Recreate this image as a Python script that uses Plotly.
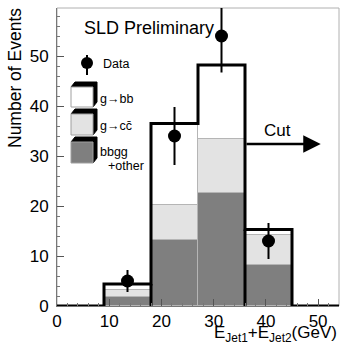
"""
Distribuição E_Jet1 + E_Jet2 - SLD Preliminary.
"""
import plotly.graph_objects as go

# Bins de 9 GeV
bin_centers = [4.5, 13.5, 22.5, 31.5, 40.5, 49.5]
bin_edges = [0, 9, 18, 27, 36, 45, 54]

# Componentes empilhadas
bbgg_other = [0, 1.8, 13.3, 22.6, 8.2, 0]
g_cc = [0, 1.4, 7.0, 10.8, 6.0, 0]
g_bb = [0, 1.2, 16.2, 14.8, 1.1, 0]

# Dados
data_x = [13.5, 22.5, 31.5, 40.5]
data_y = [5, 34, 54, 13]
data_err = [2.2, 5.8, 7.3, 3.6]

# Corte
cut_value = 36
cut_y = 32.4
cut_end = 50.5

DARK = "#7f7f7f"
LIGHT = "#e3e3e3"
FONT = "Liberation Sans, Arial, sans-serif"

# Área do gráfico em pixels
L, R, T, B = 57, 339, 8, 306


def px(x):
    return (x - L) / (R - L)


def py(y):
    return (B - y) / (B - T)


total = [a + b + c for a, b, c in zip(bbgg_other, g_cc, g_bb)]

fig = go.Figure()

# Barras empilhadas
for vals, color in [(bbgg_other, DARK), (g_cc, LIGHT), (g_bb, "white")]:
    fig.add_trace(
        go.Bar(
            x=bin_centers,
            y=vals,
            width=9,
            marker=dict(color=color, line=dict(color="#b5b5b5", width=1)),
            showlegend=False,
            hoverinfo="skip",
        )
    )

# Contorno do histograma total
step_x = list(bin_edges)
step_y = total + [total[-1]]
fig.add_trace(
    go.Scatter(
        x=step_x,
        y=step_y,
        mode="lines",
        line=dict(color="black", width=3, shape="hv"),
        showlegend=False,
        hoverinfo="skip",
    )
)
# Linhas verticais que descem até zero
fig.add_trace(
    go.Scatter(
        x=[18, 18, None, 36, 36],
        y=[0, total[1], None, 0, total[4]],
        mode="lines",
        line=dict(color="black", width=3),
        showlegend=False,
        hoverinfo="skip",
    )
)

# Pontos de dados
fig.add_trace(
    go.Scatter(
        x=data_x,
        y=data_y,
        mode="markers",
        marker=dict(color="black", size=13),
        error_y=dict(type="data", array=data_err, width=0, thickness=2, color="black"),
        showlegend=False,
        cliponaxis=False,
    )
)

# Seta do corte
fig.add_annotation(
    x=cut_end, y=cut_y, ax=cut_value, ay=cut_y,
    xref="x", yref="y", axref="x", ayref="y",
    showarrow=True, arrowhead=2, arrowsize=1.4, arrowwidth=2.5,
    arrowcolor="black", text="",
)
fig.add_annotation(
    x=42.3, y=35.2, xref="x", yref="y", text="Cut", showarrow=False,
    font=dict(size=17, color="black", family=FONT),
)

# Textos
fig.add_annotation(
    x=px(82), y=py(28), xref="paper", yref="paper", xanchor="left",
    yanchor="middle", text="SLD Preliminary", showarrow=False,
    font=dict(size=18, color="black", family=FONT),
)
fig.add_annotation(
    x=px(15), y=py(78), xref="paper", yref="paper", xanchor="center",
    yanchor="middle", text="Number of Events", textangle=-90, showarrow=False,
    font=dict(size=17.5, color="black", family=FONT),
)
fig.add_annotation(
    x=px(339), y=py(334), xref="paper", yref="paper", xanchor="right",
    yanchor="middle", text="E<sub>Jet1</sub>+E<sub>Jet2</sub>(GeV)",
    showarrow=False, font=dict(size=17, color="black", family=FONT),
)

# Legenda desenhada à mão
shapes = []
shapes.append(dict(type="line", xref="paper", yref="paper",
                   x0=px(87), x1=px(87), y0=py(55), y1=py(75),
                   line=dict(color="black", width=2)))
shapes.append(dict(type="circle", xref="paper", yref="paper",
                   x0=px(81), x1=px(93), y0=py(57), y1=py(69),
                   fillcolor="black", line=dict(color="black", width=0)))

boxes = [(87, 107, "white"), (114, 135, LIGHT), (142, 163, DARK)]
x0, x1, dx, dy = 71, 93, 4, 5
for top, bot, color in boxes:
    path = (
        f"M {px(x0)},{py(top)} L {px(x0 + dx)},{py(top - dy)} "
        f"L {px(x1 + dx)},{py(top - dy)} L {px(x1 + dx)},{py(bot - dy)} "
        f"L {px(x1)},{py(bot)} Z"
    )
    shapes.append(dict(type="path", xref="paper", yref="paper", path=path,
                       fillcolor="black", line=dict(color="black", width=1)))
    shapes.append(dict(type="rect", xref="paper", yref="paper",
                       x0=px(x0), x1=px(x1), y0=py(bot), y1=py(top),
                       fillcolor=color, line=dict(color="#a0a0a0", width=1)))

legend_texts = [
    (101, 64, "Data"),
    (98, 99, "g→bb"),
    (98, 126, "g→cc\u0304"),
    (98, 152, "bbgg"),
    (106, 166, "+other"),
]
for x, y, txt in legend_texts:
    fig.add_annotation(
        x=px(x), y=py(y), xref="paper", yref="paper", xanchor="left",
        yanchor="middle", text=txt, showarrow=False,
        font=dict(size=12.5, color="black", family=FONT),
    )

# Moldura
shapes.append(dict(type="rect", xref="paper", yref="paper", x0=0, x1=1, y0=0, y1=1,
                   line=dict(color="#b0b0b0", width=1), layer="below"))

fig.update_layout(
    width=346,
    height=347,
    margin=dict(l=L, r=346 - R, t=T, b=347 - B, autoexpand=False),
    barmode="stack",
    bargap=0,
    plot_bgcolor="white",
    paper_bgcolor="white",
    shapes=shapes,
    font=dict(family=FONT, color="black"),
)
fig.update_xaxes(
    range=[0, 54],
    tickvals=[0, 10, 20, 30, 40, 50],
    ticks="inside",
    ticklen=7,
    tickcolor="#555",
    tickfont=dict(size=17),
    minor=dict(ticks="inside", dtick=2, ticklen=3, tickcolor="#777"),
    showline=True,
    linecolor="#777",
    showgrid=False,
    zeroline=False,
    automargin=False,
    ticklabelstandoff=0,
)
fig.update_yaxes(
    range=[0, 59.6],
    tickvals=[0, 10, 20, 30, 40, 50],
    ticks="inside",
    ticklen=7,
    tickcolor="#555",
    tickfont=dict(size=17),
    minor=dict(ticks="inside", dtick=2, ticklen=3, tickcolor="#777"),
    showline=True,
    linecolor="#777",
    showgrid=False,
    zeroline=False,
    ticklabelstandoff=4,
    automargin=False,
)

# Remover a margem padrão da página
fig.write_html(
    "out.html",
    config={"displayModeBar": False},
    post_script="document.body.style.margin='0px';",
)
